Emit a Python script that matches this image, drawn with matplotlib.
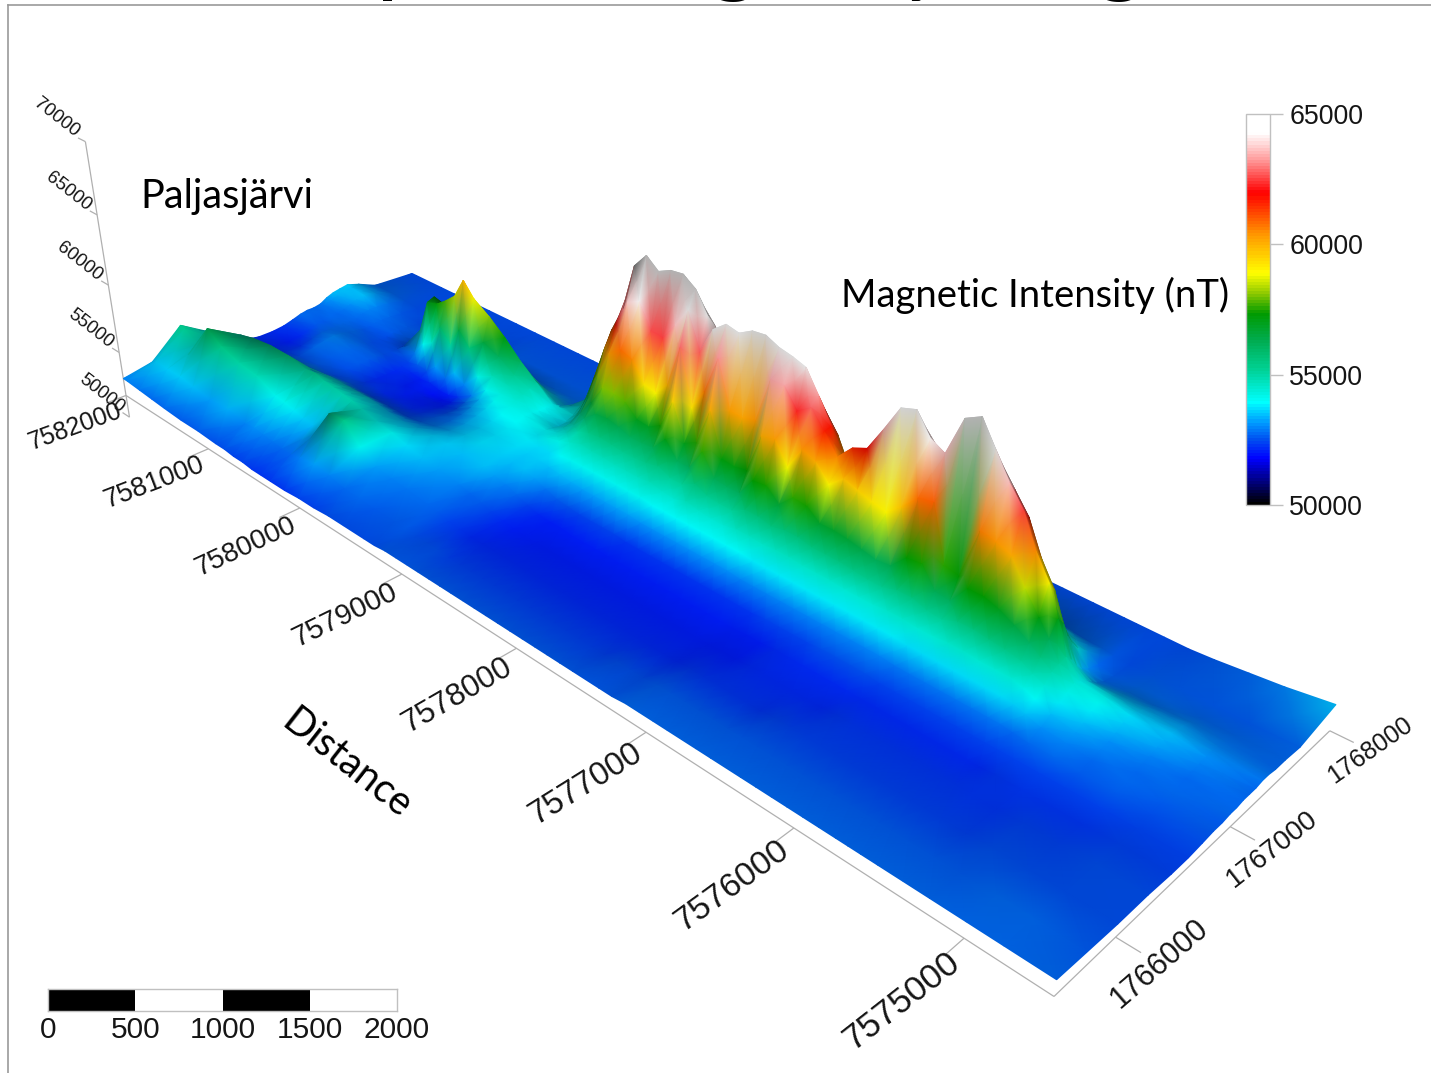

import numpy as np, matplotlib
matplotlib.use('Agg')
import matplotlib.pyplot as plt
from matplotlib.colors import LinearSegmentedColormap, Normalize
from matplotlib.cm import ScalarMappable
from mpl_toolkits.mplot3d import proj3d

W, H = 1431, 1073
# northing of each grid row (far to near), easting of each grid column
NORTHING = [7582000,7581950,7581800,7581650,7581500,7581300,7581100,7580900,7580800,7580700,7580600,7580500,7580400,7580300,7580150,7580000,7579850,7579700,7579550,
 7579350,7579250,7579150,7579050,7578950,7578850,7578750,7578650,7578550,7578450,7578350,7578250,7578150,7578050,7577950,7577850,7577750,7577650,7577550,7577450,7577350,7577250,7577150,7577050,
 7576950,7576850,7576750,7576650,7576550,7576450,7576350,7576250,7576150,7576050,7575950,7575850,7575750,7575675,7575600,7575500,7575350,7575200,7575000,7574800,7574526]
EASTING = [1765519,1765750,1766000,1766250,1766450,1766600,1766720,1766820,1766900,1766970,1767030,1767090,1767150,1767210,1767270,1767330,1767400,1767500,1767650,1768000]
# magnetic intensity, in units of 100 nT
INTENSITY_100NT = [
[530,534,553,538,525,522,522,523,525,527,528,528,529,532,534,535,536,533,527,525],
[530,536,552,539,526,522,522,523,525,527,528,528,529,531,533,534,535,533,527,525],
[529,536,546,541,526,522,521,522,524,526,526,527,528,529,531,533,534,532,527,525],
[528,536,563,549,528,523,523,525,527,527,527,527,527,527,529,530,530,529,526,525],
[527,534,555,552,530,525,527,529,530,529,528,527,526,526,527,527,527,526,525,525],
[526,532,550,554,532,526,526,527,527,527,526,525,525,525,526,526,526,525,525,525],
[526,533,548,554,534,525,525,526,526,526,525,525,525,525,526,526,526,525,525,525],
[525,530,541,551,537,526,523,522,522,522,523,524,530,545,548,538,530,526,525,525],
[525,531,540,552,537,525,523,522,522,522,522,526,540,570,572,555,535,527,525,525],
[524,530,538,550,537,525,522,522,521,521,521,525,545,572,570,552,535,527,525,525],
[524,529,536,549,537,525,522,521,521,521,522,532,560,578,575,558,538,527,525,525],
[523,528,535,548,537,525,522,521,520,519,520,527,550,585,578,560,540,528,526,525],
[523,528,537,547,536,525,522,521,520,519,520,535,565,600,585,558,538,528,526,525],
[523,530,552,545,535,525,523,522,521,521,523,530,555,590,576,555,537,528,526,525],
[523,532,553,542,534,527,526,525,525,527,530,542,565,582,568,550,536,528,526,525],
[524,530,540,540,535,530,529,530,532,535,540,548,560,572,558,545,535,528,526,525],
[524,527,532,537,536,533,533,535,537,540,543,547,552,560,550,540,533,528,526,525],
[525,527,530,534,536,536,536,537,539,542,544,546,548,550,543,537,532,528,526,525],
[525,526,529,532,535,537,537,538,539,541,541,540,540,540,536,533,530,528,526,525],
[525,526,527,530,534,536,537,538,538,539,538,537,538,540,544,547,541,534,527,525],
[525,526,526,528,532,535,536,537,540,541,542,543,546,552,558,560,555,542,529,525],
[526,525,524,526,530,534,536,537,542,545,548,554,563,575,585,590,575,552,532,525],
[526,525,523,524,527,532,535,539,545,550,557,566,583,600,610,612,592,562,534,525],
[526,525,522,522,524,529,534,540,548,553,564,580,602,620,628,620,598,568,535,525],
[526,524,522,521,522,526,533,540,547,554,565,580,608,638,660,652,622,575,535,525],
[526,524,522,520,521,525,532,540,547,553,563,578,605,642,670,660,625,575,535,525],
[526,524,522,520,521,524,532,540,546,552,560,570,592,626,663,652,620,575,535,525],
[526,524,522,520,520,524,532,540,546,552,560,569,590,625,667,658,622,575,535,525],
[526,524,522,520,520,524,532,540,546,553,561,574,600,637,668,660,622,575,535,525],
[526,524,522,520,520,524,532,540,547,555,571,594,628,650,662,650,615,570,535,525],
[526,524,522,520,520,523,531,539,545,551,560,570,592,627,648,640,610,570,533,525],
[526,524,522,520,520,523,531,539,544,551,560,575,607,645,640,625,600,565,532,525],
[526,524,522,520,520,523,531,539,547,556,575,600,632,652,640,620,590,560,532,525],
[526,524,522,520,520,523,531,539,545,552,561,572,602,650,645,622,592,560,532,525],
[526,524,522,520,520,523,531,539,544,551,560,571,601,655,648,625,595,560,532,525],
[526,524,522,520,520,523,531,539,544,551,560,573,604,656,648,625,595,560,532,525],
[526,524,522,520,520,523,531,539,546,556,573,600,634,652,640,620,590,558,532,525],
[526,524,522,520,520,523,531,539,546,556,574,602,634,650,635,612,585,555,530,525],
[526,525,522,520,520,523,530,538,545,554,566,588,622,647,632,610,585,555,530,525],
[526,525,522,520,520,523,530,538,546,556,575,604,628,633,622,600,575,550,530,525],
[526,525,522,520,520,523,530,538,546,556,574,600,617,618,610,590,568,548,530,525],
[527,526,523,521,521,524,530,538,545,554,567,590,605,603,592,575,560,545,529,525],
[527,526,523,521,521,524,530,538,545,554,567,598,615,610,595,577,560,545,529,525],
[527,526,523,522,522,524,530,538,545,554,566,595,619,612,597,578,560,545,529,525],
[527,526,523,522,522,524,530,538,544,553,564,592,635,625,605,582,562,546,529,525],
[527,526,523,522,522,525,530,538,544,552,562,590,652,640,612,585,565,547,529,525],
[527,526,523,522,522,525,530,538,544,552,563,598,655,645,615,588,565,547,529,525],
[527,526,524,522,522,525,530,538,545,555,573,608,642,635,610,585,563,546,529,525],
[527,526,524,522,522,525,530,538,545,555,574,610,637,630,608,582,562,545,529,525],
[527,526,524,523,522,524,529,537,544,552,561,575,662,652,617,588,565,546,529,525],
[527,526,524,523,522,524,529,537,544,551,560,573,667,656,620,590,565,546,529,525],
[527,526,524,523,522,524,529,537,545,555,573,606,652,642,612,585,563,545,529,525],
[527,526,524,523,522,524,529,537,545,555,573,604,637,630,603,580,560,545,529,525],
[527,526,524,523,522,524,529,537,544,554,570,600,625,618,595,575,557,543,528,525],
[527,526,524,523,522,524,529,537,544,553,565,585,605,598,580,563,552,540,528,525],
[527,526,524,523,522,524,529,537,544,551,559,572,590,583,568,555,545,536,527,525],
[527,526,524,523,522,524,529,536,542,547,554,562,572,566,555,547,540,533,527,525],
[527,526,524,523,522,524,528,534,539,544,549,551,552,547,540,535,531,528,526,525],
[527,526,524,523,523,524,527,531,535,538,542,544,542,539,535,531,528,526,525,525],
[527,526,524,523,523,524,527,530,532,534,538,540,540,538,535,532,529,527,526,525],
[527,526,525,524,523,524,526,528,530,531,533,536,537,536,534,532,529,527,526,526],
[527,527,525,524,523,524,526,527,528,529,530,532,533,534,533,532,530,527,526,528],
[527,527,525,525,524,524,525,526,527,527,528,529,530,531,531,530,529,527,526,530],
[527,526,525,525,524,524,525,526,526,527,527,528,528,528,529,529,528,528,527,534],
]
NORTH_TICKS = [7575000,7576000,7577000,7578000,7579000,7580000,7581000,7582000]
NORTH_SIZES = [25.5,24.5,23.5,22.5,21,20,19.5,18]
NORTH_ROT = [38,36,32,30,26,25,21,20]
EAST_TICKS = [1766000,1767000,1768000]
EAST_SIZES = [22,20,18]
EAST_ROT = [41,38,35]
Z_TICKS = [50000,55000,60000,65000,70000]
CB_TICKS = [50000,55000,60000,65000]
SCALE_EDGES = [0,500,1000,1500,2000]
SCALE_COLORS = ['black','white','black','white']
CM_VALUES = [50000,51730,52490,53100,53900,55300,56300,57350,58100,58900,60400,62000,63250,64300,65000]
CM_COLORS = ['#000000','#0000ff','#0050f0','#0096ff','#00ffff','#00cd8c','#00ac50','#009b00','#8cc800','#ffff00','#ff9600','#ff0000','#ff9696','#ffffff','#ffffff']

plt.rcParams['font.family'] = ['Liberation Sans', 'DejaVu Sans']
fig = plt.figure(figsize=(W/100, H/100), dpi=100, facecolor='white')
E0, Em, D0, Dm = EASTING[0], EASTING[-1], NORTHING[-1], NORTHING[0]
Zfloor = 51700
ax = fig.add_axes([-61.2/W, -37.4/H, 1372.1/W, 1372.1/H], projection='3d')
ax.view_init(29.570, -135.016)
ax.set_proj_type('persp', focal_length=0.2464)
ax.set_box_aspect((1.3552, 4.0695, 1))
ax.set_xlim3d(E0, Em); ax.set_ylim3d(D0, Dm); ax.set_zlim3d(Zfloor, 70000)
ax.set_axis_off()
ax.patch.set_alpha(0)
fig.canvas.draw()
M = ax.get_proj()
def to_px(xs, ys, zs):
    xs, ys, zs = [np.asarray(a, float).ravel() for a in (xs, ys, zs)]
    p, q, _ = proj3d.proj_transform(xs, ys, zs, M)
    return ax.transData.transform(np.column_stack([p, q]))

ov = fig.add_axes([0, 0, 1, 1], facecolor='none')
ov.set_xlim(0, W); ov.set_ylim(0, H); ov.axis('off')
axc = '#b0b0b0'
dark = '#151515'
def ln(xs, ys, zs):
    d = to_px(xs, ys, zs)
    ov.plot(d[:, 0], d[:, 1], color=axc, lw=0.9, solid_capstyle='butt', zorder=1)
def lab(x, y, z, s, size, rot, ha='right'):
    d = to_px([x], [y], [z])[0]
    ov.text(d[0], d[1], s, fontsize=size, rotation=rot, rotation_mode='anchor', ha=ha, va='center', color=dark, zorder=5)
ln([E0, E0], [D0, Dm], [Zfloor, Zfloor])
ln([E0, Em], [D0, D0], [Zfloor, Zfloor])
ln([E0, E0], [Dm, Dm], [Z_TICKS[0], Z_TICKS[-1]])
for t, s, r in zip(NORTH_TICKS, NORTH_SIZES, NORTH_ROT):
    ln([E0, E0-150], [t, t], [Zfloor, Zfloor])
    lab(E0-50, t, Zfloor-900, str(t), s, r)
for t, s, r in zip(EAST_TICKS, EAST_SIZES, EAST_ROT):
    ln([t, t], [D0, D0-130], [Zfloor, Zfloor])
    lab(t, D0-220, Zfloor, str(t), s, r, ha='center')
for t in Z_TICKS:
    ln([E0, E0], [Dm, Dm+90], [t, t])
    lab(E0, Dm+90, t+250, str(t), 13.5, -38)

# surface
Z = np.array(INTENSITY_100NT, float)*100
EE = np.array(EASTING, float); DD = np.array(NORTHING, float)
X3, Y3 = np.meshgrid(EE, DD)
cmap = LinearSegmentedColormap.from_list('mag', [((v-50000)/15000, c) for v, c in zip(CM_VALUES, CM_COLORS)], N=128)
norm = Normalize(50000, 65000)
disp = to_px(X3, Y3, Z)
PX = disp[:, 0].reshape(Z.shape); PY = disp[:, 1].reshape(Z.shape)
# headlight shading, with the summits turning grey as in the original render
xu = EE/(Em-E0)*1.3552; yu = DD/(Dm-D0)*4.0695; zu = (Z-Zfloor)/(70000-Zfloor)
dzdy, dzdx = np.gradient(zu, yu, xu)
n = np.dstack([-dzdx, -dzdy, np.ones_like(zu)])
n /= np.linalg.norm(n, axis=2, keepdims=True)
el, az = np.radians(29.57), np.radians(-135.016)
v = np.array([np.cos(el)*np.cos(az), np.cos(el)*np.sin(az), np.sin(el)])
shade = np.clip(0.90+0.8*(n@v-0.49), 0.5, 0.97)
shade *= 1-0.28*np.clip((Z-64000)/2500, 0, 1)
rgba = cmap(norm(Z))
rgba[..., :3] *= shade[..., None]
# far rows and far columns first, so nearer parts paint over them
ov.pcolormesh(PX[:, ::-1], PY[:, ::-1], rgba[:, ::-1], shading='gouraud', zorder=2)

# colorbar
cax = fig.add_axes([1246/W, 1-505/H, 24/W, 391/H])
cb = fig.colorbar(ScalarMappable(norm, cmap), cax=cax, ticks=CB_TICKS)
cb.outline.set_edgecolor('#c0c0c0'); cb.outline.set_linewidth(1)
cb.ax.tick_params(length=9.5, width=1, color='#c0c0c0', pad=4.5, labelsize=19.3, labelcolor=dark)

# scale bar
sb = fig.add_axes([48/W, 1-1011/H, 349/W, 22/H])
sb.set_xlim(SCALE_EDGES[0], SCALE_EDGES[-1]); sb.set_ylim(0, 1); sb.set_yticks([])
for a, b, c in zip(SCALE_EDGES[:-1], SCALE_EDGES[1:], SCALE_COLORS):
    sb.barh(0.5, b-a, left=a, height=1, color=c, edgecolor='none')
sb.set_xticks(SCALE_EDGES)
sb.tick_params(axis='x', length=0, pad=3.5, labelsize=21.5, labelcolor=dark)
for s in sb.spines.values():
    s.set_edgecolor('#c0c0c0'); s.set_linewidth(1)

# annotations
fam = ['Lato', 'DejaVu Sans']
def T(x, y, s, **k):
    fig.text(x/W, 1-y/H, s, family=fam, color='black', **k)
T(140, 208, 'Paljasjärvi', fontsize=28.6)
T(841, 307, 'Magnetic Intensity (nT)', fontsize=27.5)
T(347, 764, 'Distance', fontsize=28.5, rotation=-38, ha='center', va='center')
for x, c in zip([404, 734, 925, 1120], 'pgyg'):
    T(x, -16, c, fontsize=72, ha='center', va='baseline')
# slide frame
fr = fig.add_axes([0, 0, 1, 1], facecolor='none'); fr.set_xlim(0, W); fr.set_ylim(H, 0); fr.axis('off')
fr.plot([8, W], [5, 5], color='#999999', lw=1.2)
fr.plot([8, 8], [5, H], color='#999999', lw=1.2)
fig.savefig('out.png', dpi=100, facecolor='white')
